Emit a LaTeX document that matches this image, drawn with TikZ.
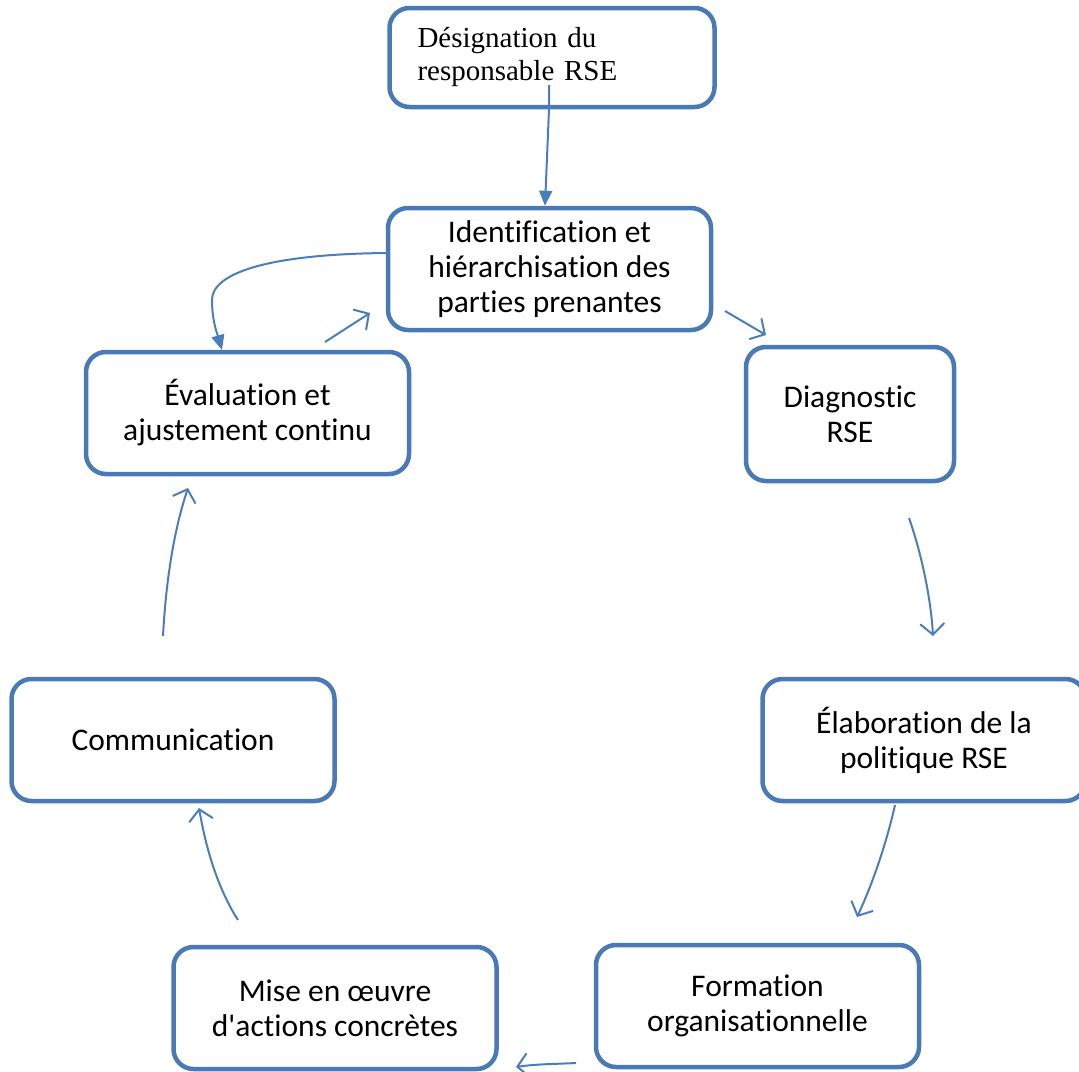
\documentclass[tikz,border=0pt]{standalone}
\usepackage{fontspec}
\setmainfont{Liberation Serif}
\newfontfamily\calfont[Ligatures={NoCommon,NoRequired,NoContextual}]{Carlito}
\usetikzlibrary{arrows.meta}
\definecolor{boxblue}{HTML}{4A7AB5}
\definecolor{arrblue}{HTML}{4A7EBB}
\tikzset{
  stepbox/.style={draw=boxblue, line width=4.5pt, rounded corners=20pt, fill=white,
    minimum width=323pt, minimum height=122pt, align=center, inner sep=0pt,
    font=\calfont\fontsize{31.5}{35}\selectfont},
  openarr/.style={draw=arrblue, line width=2pt, -{Straight Barb[length=11pt,width=24pt,line width=2pt]}},
  fillarr/.style={draw=arrblue, line width=2pt, -{Triangle[length=15pt,width=13pt]}}
}
\begin{document}
\begin{tikzpicture}[x=1pt,y=-1pt]
\useasboundingbox (0,0) rectangle (1079,1071);
\node[stepbox, minimum width=325pt, minimum height=99pt, text width=269pt, inner xsep=28pt, align=left,
  font=\rmfamily\fontsize{29}{33}\selectfont] (des) at (552,57.5) {D\'esignation du\\responsable RSE};
\node[stepbox] (ide) at (549.5,269) {Identification et\\hi\'erarchisation des\\parties prenantes};
\node[stepbox, minimum width=208pt, minimum height=134pt] (dia) at (850,414) {Diagnostic\\RSE};
\node[stepbox] (eva) at (247.5,413) {\'Evaluation et\\ajustement continu};
\node[stepbox] (ela) at (924,740) {\'Elaboration de la\\politique RSE};
\node[stepbox] (com) at (173,740) {Communication};
\node[stepbox] (for) at (757.5,1006) {Formation\\organisationnelle};
\node[stepbox] (mis) at (335,1008) {Mise en {\oe}uvre\\d'actions concr\`etes};

% free ends
\coordinate (a1) at (549,85);
\coordinate (l1) at (388,253);
\coordinate (l2) at (222,350);
\coordinate (e1) at (325,342);
\coordinate (e2) at (370,313);
\coordinate (i1) at (725,311);
\coordinate (i2) at (766,335);
\coordinate (d1) at (909,518);
\coordinate (d2) at (933,636);
\coordinate (p1) at (895,805);
\coordinate (p2) at (857,917);
\coordinate (f1) at (576,1063);
\coordinate (f2) at (516,1067);
\coordinate (m1) at (238,920);
\coordinate (m2) at (199,808);
\coordinate (c1) at (163,636);
\coordinate (c2) at (188,488);

\draw[fillarr] (a1) -- (des.south -| a1) -- (ide.north -| 545,0);
\draw[fillarr] (l1) .. controls (265,254) and (212,274) .. (212,300)
   .. controls (212,322) and (218,336) .. (l2);
\draw[openarr] (e1) -- (e2);
\draw[openarr] (i1) -- (i2);
\draw[openarr] (d1) .. controls (922,555) and (931,600) .. (d2);
\draw[openarr] (p1) .. controls (886,845) and (872,885) .. (p2);
\draw[openarr] (f1) .. controls (556,1064) and (536,1064) .. (f2);
\draw[openarr] (m1) .. controls (222,895) and (208,860) .. (m2);
\draw[openarr] (c1) .. controls (166,580) and (174,530) .. (c2);
\end{tikzpicture}
\end{document}
